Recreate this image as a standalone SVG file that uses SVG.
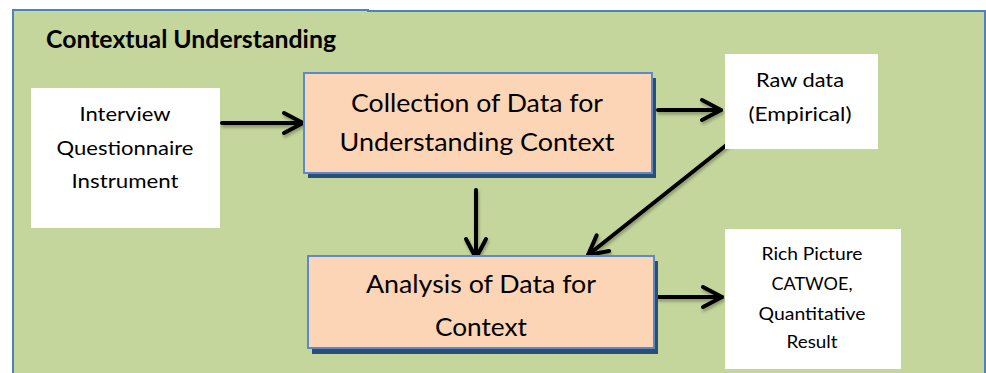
<svg xmlns="http://www.w3.org/2000/svg" width="986" height="373" viewBox="0 0 986 373">
  <style>
    .t { font-family: Lato, "Noto Sans", "Liberation Sans", sans-serif; fill: #000; text-anchor: middle; }
    .big { font-size: 25.5px; }
    .mid { font-size: 19px; }
    .sm { font-size: 18px; }
    .white { fill: #ffffff; }
    .proc { fill: #fbd5b5; stroke: #5b8ac6; stroke-width: 2; }
    .shadow { fill: #2c4d75; }
    .conn { stroke: #000; stroke-width: 4; fill: none; stroke-linecap: round; marker-end: url(#arrow); filter: url(#ds); }
  </style>
  <defs>
    <marker id="arrow" markerUnits="userSpaceOnUse" viewBox="-24 -14 28 28" refX="0" refY="0" markerWidth="28" markerHeight="28" orient="auto">
      <path d="M-19,-10 L0,0 L-19,10" fill="none" stroke="#000" stroke-width="4" stroke-linecap="round" stroke-linejoin="round"/>
    </marker>
    <filter id="ds" filterUnits="userSpaceOnUse" x="0" y="0" width="986" height="373">
      <feDropShadow dx="1" dy="2.5" stdDeviation="1.8" flood-color="#000" flood-opacity="0.3"/>
    </filter>
  </defs>
  <rect x="0" y="0" width="986" height="373" fill="#ffffff"/>
  <g id="container">
    <path d="M13,10 H368 V11 H985 V380 H13 Z" fill="#c4d69b" stroke="#4f81bd" stroke-width="2"/>
    <text class="t" x="191" y="48" font-size="25" font-weight="bold" textLength="290" lengthAdjust="spacingAndGlyphs">Contextual Understanding</text>
  </g>
  <g id="connectors">
    <line class="conn" x1="222" y1="123" x2="303" y2="123"/>
    <line class="conn" x1="658" y1="110" x2="721" y2="110"/>
    <line class="conn" x1="476" y1="190" x2="476" y2="258"/>
    <line class="conn" x1="729" y1="143" x2="588" y2="255"/>
    <line class="conn" x1="658" y1="297" x2="722" y2="297"/>
  </g>
  <g id="interview">
    <rect class="white" x="31" y="88" width="189" height="140"/>
    <text class="t mid" x="125" y="121" textLength="91" lengthAdjust="spacingAndGlyphs">Interview</text>
    <text class="t mid" x="125" y="155" textLength="137" lengthAdjust="spacingAndGlyphs">Questionnaire</text>
    <text class="t mid" x="125" y="188" textLength="107" lengthAdjust="spacingAndGlyphs">Instrument</text>
  </g>
  <g id="collection">
    <rect class="shadow" x="308" y="78" width="348" height="100"/>
    <rect class="proc" x="304" y="73" width="348" height="100"/>
    <text class="t big" x="477" y="112" textLength="252" lengthAdjust="spacingAndGlyphs">Collection of Data for</text>
    <text class="t big" x="477" y="151" textLength="275" lengthAdjust="spacingAndGlyphs">Understanding Context</text>
  </g>
  <g id="rawdata">
    <rect class="white" x="725" y="54" width="153" height="95"/>
    <text class="t mid" x="800" y="87" textLength="88" lengthAdjust="spacingAndGlyphs">Raw data</text>
    <text class="t mid" x="800" y="121" textLength="103" lengthAdjust="spacingAndGlyphs">(Empirical)</text>
  </g>
  <g id="analysis">
    <rect class="shadow" x="312" y="261" width="346" height="93"/>
    <rect class="proc" x="308" y="256" width="346" height="92"/>
    <text class="t big" x="481" y="293" textLength="230" lengthAdjust="spacingAndGlyphs">Analysis of Data for</text>
    <text class="t big" x="481" y="336" textLength="92" lengthAdjust="spacingAndGlyphs">Context</text>
  </g>
  <g id="richpicture">
    <rect class="white" x="725" y="229" width="176" height="140"/>
    <text class="t sm" x="812" y="260" textLength="101" lengthAdjust="spacingAndGlyphs">Rich Picture</text>
    <text class="t sm" x="812" y="290" textLength="81" lengthAdjust="spacingAndGlyphs">CATWOE,</text>
    <text class="t sm" x="812" y="320" textLength="107" lengthAdjust="spacingAndGlyphs">Quantitative</text>
    <text class="t sm" x="812" y="348" textLength="51" lengthAdjust="spacingAndGlyphs">Result</text>
  </g>
</svg>
